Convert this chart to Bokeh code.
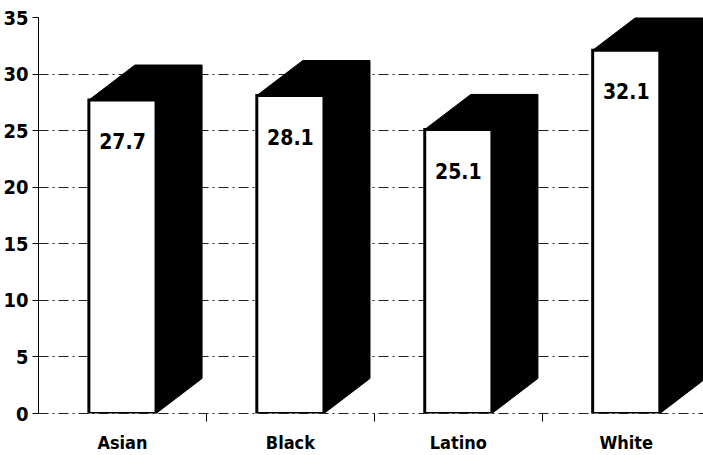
import numpy as np
from bokeh.plotting import figure
from bokeh.models import Range1d, FixedTicker
from bokeh.core.properties import value
from bokeh.embed import file_html
from bokeh.resources import INLINE

# ---- data ----
categories = ["Asian", "Black", "Latino", "White"]
values = [27.7, 28.1, 25.1, 32.1]
value_labels = ["27.7", "28.1", "25.1", "32.1"]
y_ticks = [0, 5, 10, 15, 20, 25, 30, 35]

# ---- style ----
FONT = "DejaVu Sans Condensed"
BAR_W = 0.40      # front face width (category units)
DX = 0.274        # 3D depth, x (category units)
DY = 3.1          # 3D depth, y (value units)
GRID_DASH = "10 4 2 4"

centers = np.arange(len(categories)) + 0.5
left = centers - BAR_W / 2
right = centers + BAR_W / 2

xs, ys = [], []
for l, r, v in zip(left, right, values):
    xs.append([l, l + DX, r + DX, r + DX, r, r])
    ys.append([v, v + DY, v + DY, DY, 0, v])

p = figure(width=703, height=455, output_backend="svg", toolbar_location=None,
           x_range=Range1d(0, 3.96), y_range=Range1d(0, 35),
           min_border_left=38, min_border_right=0, min_border_top=17,
           min_border_bottom=42)
p.outline_line_color = None
p.background_fill_color = "white"
p.border_fill_color = "white"

# grid
p.xgrid.visible = False
p.ygrid.grid_line_color = "#222222"
p.ygrid.grid_line_width = 1
p.ygrid.grid_line_dash = GRID_DASH

# 3D bars: black top+side, white front
p.patches(xs, ys, fill_color="black", line_color="black", line_width=1)
p.vbar(x=centers, top=values, bottom=0, width=BAR_W, fill_color="white",
       line_color="black", line_width=3, line_join="miter")

p.text(x=centers, y=values, text=value_labels, text_align="center",
       text_baseline="middle", y_offset=41, text_font=value(FONT),
       text_font_style="bold", text_font_size="21px", text_color="black")

# y axis
p.yaxis.ticker = FixedTicker(ticks=y_ticks, minor_ticks=[])
p.yaxis.axis_line_color = "black"
p.yaxis.axis_line_width = 1
p.yaxis.major_tick_line_color = "black"
p.yaxis.major_tick_out = 6
p.yaxis.major_tick_in = 0
p.yaxis.minor_tick_line_color = None
p.yaxis.major_label_standoff = 4
p.yaxis.major_label_text_font = FONT
p.yaxis.major_label_text_font_style = "bold"
p.yaxis.major_label_text_font_size = "20px"
p.yaxis.major_label_text_color = "black"

# x axis
p.xaxis.ticker = FixedTicker(ticks=list(centers), minor_ticks=list(np.arange(1, len(categories))))
p.xaxis.major_label_overrides = {float(c): cat for c, cat in zip(centers, categories)}
p.xaxis.axis_line_color = "#222222"
p.xaxis.axis_line_dash = GRID_DASH
p.xaxis.major_tick_line_color = None
p.xaxis.minor_tick_line_color = "black"
p.xaxis.minor_tick_out = 8
p.xaxis.minor_tick_in = 0
p.xaxis.major_tick_out = 0
p.xaxis.major_label_standoff = 10
p.xaxis.major_label_text_font = FONT
p.xaxis.major_label_text_font_style = "bold"
p.xaxis.major_label_text_font_size = "18px"
p.xaxis.major_label_text_color = "black"

open("out.html", "w").write(file_html(p, INLINE))
